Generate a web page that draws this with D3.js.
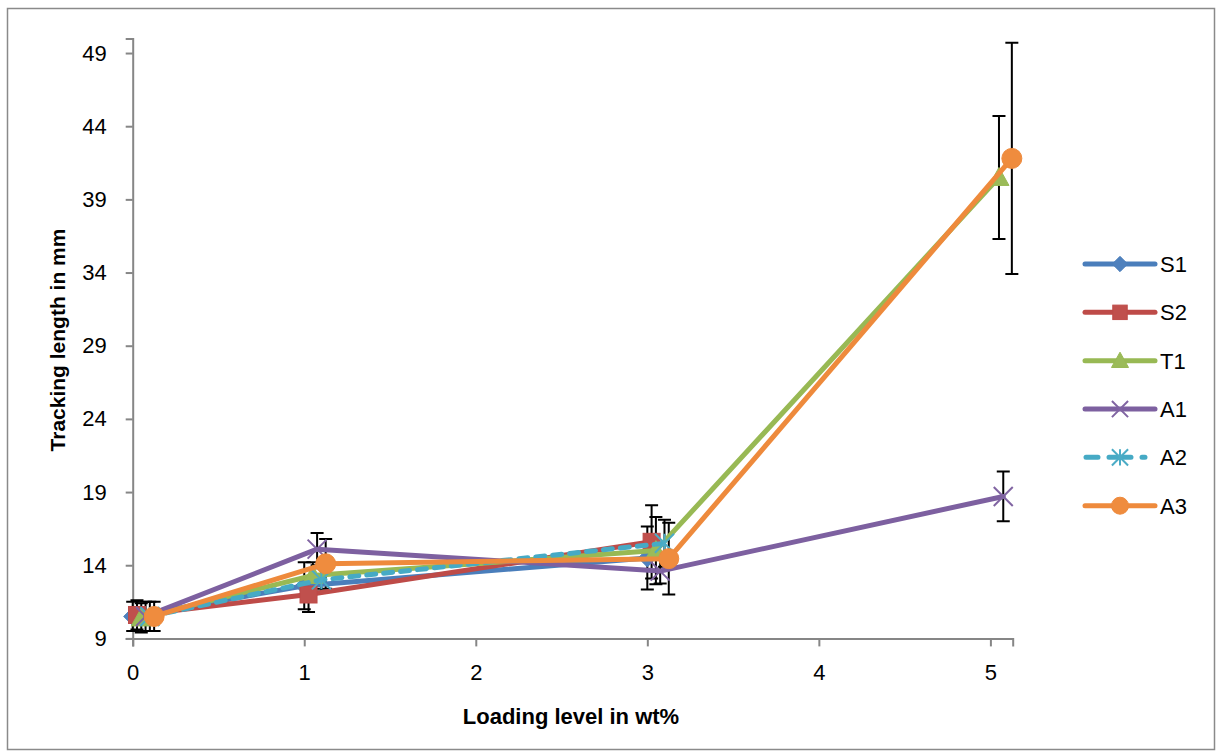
<!DOCTYPE html>
<html>
<head>
<meta charset="utf-8">
<script src="https://cdn.jsdelivr.net/npm/d3@7"></script>
<style>
  html, body { margin: 0; padding: 0; background: #fff; }
  svg { display: block; font-family: "Liberation Sans", Arial, sans-serif; }
</style>
</head>
<body>
<svg id="chart" width="1217" height="756"></svg>
<script>
// Tracking length (mm) against loading level (wt%), mean ± error, one series per formulation
const seriesNames = ["S1", "S2", "T1", "A1", "A2", "A3"];

const xS1 = [0, 1, 3];
const yS1 = [10.5, 12.6, 14.5];
const eS1 = [1.0, 1.6, 2.15];

const xS2 = [0.025, 1.025, 3.025];
const yS2 = [10.6, 12.0, 15.6];
const eS2 = [1.0, 1.2, 2.5];

const xT1 = [0.05, 1.05, 3.05, 5.05];
const yT1 = [10.4, 13.3, 15.0, 40.5];
const eT1 = [1.0, 0.9, 2.3, 4.2];

const xA1 = [0.075, 1.075, 3.075, 5.075];
const yA1 = [10.5, 15.1, 13.6, 18.7];
const eA1 = [1.0, 1.1, 0.85, 1.7];

const xA2 = [0.1, 1.1, 3.1];
const yA2 = [10.5, 13.0, 15.5];
const eA2 = [1.0, 0.8, 1.6];

const xA3 = [0.125, 1.125, 3.125, 5.125];
const yA3 = [10.5, 14.1, 14.45, 41.8];
const eA3 = [1.0, 1.7, 2.45, 7.9];

const xTickValues = [0, 1, 2, 3, 4, 5];
const yTickValues = [9, 14, 19, 24, 29, 34, 39, 44, 49];

const xTitle = "Loading level in wt%";
const yTitle = "Tracking length in mm";

// Build the series table from the arrays above
const xs = [xS1, xS2, xT1, xA1, xA2, xA3];
const ys = [yS1, yS2, yT1, yA1, yA2, yA3];
const es = [eS1, eS2, eT1, eA1, eA2, eA3];
const styles = {
  S1: { line: "#4A7EBB", fill: "#4F81BD", marker: "diamond" },
  S2: { line: "#BE4B48", fill: "#C0504D", marker: "square" },
  T1: { line: "#98B954", fill: "#9BBB59", marker: "triangle" },
  A1: { line: "#7D60A0", fill: "#8064A2", marker: "x" },
  A2: { line: "#46AAC5", fill: "#4BACC6", marker: "star", dash: "9,8" },
  A3: { line: "#EE8A3C", fill: "#EF8C3E", marker: "circle" }
};
const series = seriesNames.map((name, i) => ({
  name,
  style: styles[name],
  points: xs[i].map((x, j) => ({ x, y: ys[i][j], e: es[i][j] }))
}));

const svg = d3.select("#chart");
const fontFamily = "'Liberation Sans', Arial, sans-serif";

// Chart frame
svg.append("rect")
  .attr("x", 7.5).attr("y", 8.5)
  .attr("width", 1207).attr("height", 741)
  .attr("fill", "#fff").attr("stroke", "#8a8a8a").attr("stroke-width", 1.5);

const x = d3.scaleLinear().domain([0, 5.13]).range([132.7, 1012.7]);
const y = d3.scaleLinear().domain([9, 50]).range([638.4, 38.4]);

const axisColor = "#868686";

// Y axis
const yAxis = svg.append("g")
  .attr("transform", `translate(${x(0)},0)`)
  .call(d3.axisLeft(y).tickValues(yTickValues).tickSize(7).tickPadding(19).tickFormat(d3.format("d")));
yAxis.select(".domain").attr("stroke", axisColor).attr("stroke-width", 2);
yAxis.selectAll(".tick line").attr("stroke", axisColor).attr("stroke-width", 2);
yAxis.selectAll(".tick text").attr("fill", "#000").style("font-size", "22px")
  .style("font-family", fontFamily);

// X axis
const xAxis = svg.append("g")
  .attr("transform", `translate(0,${y(9)})`)
  .call(d3.axisBottom(x).tickValues(xTickValues).tickSize(8).tickPadding(18).tickFormat(d3.format("d")));
xAxis.select(".domain").attr("stroke", axisColor).attr("stroke-width", 2);
xAxis.selectAll(".tick line").attr("stroke", axisColor).attr("stroke-width", 2);
xAxis.selectAll(".tick text").attr("fill", "#000").style("font-size", "22px")
  .style("font-family", fontFamily);

// Axis titles
svg.append("text")
  .attr("x", 571).attr("y", 724)
  .attr("text-anchor", "middle")
  .style("font-size", "22px").style("font-weight", "bold")
  .text(xTitle);
svg.append("text")
  .attr("transform", "translate(65,340) rotate(-90)")
  .attr("text-anchor", "middle")
  .style("font-size", "21px").style("font-weight", "bold")
  .text(yTitle);

// Marker drawing
function drawMarker(g, type, cx, cy, st, scale) {
  const s = scale || 1;
  if (type === "diamond") {
    const r = 9 * s;
    g.append("path")
      .attr("d", `M${cx},${cy - r}L${cx + r},${cy}L${cx},${cy + r}L${cx - r},${cy}Z`)
      .attr("fill", st.fill).attr("stroke", st.line).attr("stroke-width", 1);
  } else if (type === "square") {
    const r = 8.5 * s;
    g.append("rect")
      .attr("x", cx - r).attr("y", cy - r).attr("width", 2 * r).attr("height", 2 * r)
      .attr("fill", st.fill).attr("stroke", st.line).attr("stroke-width", 1);
  } else if (type === "triangle") {
    const r = 10 * s;
    g.append("path")
      .attr("d", `M${cx},${cy - r}L${cx + r},${cy + r * 0.8}L${cx - r},${cy + r * 0.8}Z`)
      .attr("fill", st.fill).attr("stroke", st.line).attr("stroke-width", 1);
  } else if (type === "x") {
    const r = 9.5 * s;
    g.append("path")
      .attr("d", `M${cx - r},${cy - r}L${cx + r},${cy + r}M${cx - r},${cy + r}L${cx + r},${cy - r}`)
      .attr("stroke", st.fill).attr("stroke-width", 2).attr("fill", "none");
  } else if (type === "star") {
    const r = 9.5 * s;
    g.append("path")
      .attr("d", `M${cx - r},${cy - r}L${cx + r},${cy + r}M${cx - r},${cy + r}L${cx + r},${cy - r}M${cx},${cy - r}L${cx},${cy + r}`)
      .attr("stroke", st.fill).attr("stroke-width", 2).attr("fill", "none");
  } else if (type === "circle") {
    g.append("circle")
      .attr("cx", cx).attr("cy", cy).attr("r", 10 * s)
      .attr("fill", st.fill).attr("stroke", st.line).attr("stroke-width", 1);
  }
}

const plot = svg.append("g");

// Error bars sit beneath the series lines and markers
const errG = plot.append("g");
series.forEach(s => {
  s.points.forEach(p => {
    const px = x(p.x), top = y(p.y + p.e), bot = y(p.y - p.e);
    errG.append("path")
      .attr("d", `M${px},${top}L${px},${bot}M${px - 6.5},${top}L${px + 6.5},${top}M${px - 6.5},${bot}L${px + 6.5},${bot}`)
      .attr("stroke", "#000").attr("stroke-width", 2).attr("fill", "none");
  });
});

const line = d3.line().x(d => x(d.x)).y(d => y(d.y));
series.forEach(s => {
  const g = plot.append("g");
  g.append("path")
    .datum(s.points)
    .attr("d", line)
    .attr("fill", "none")
    .attr("stroke", s.style.line)
    .attr("stroke-width", 5)
    .attr("stroke-linejoin", "round")
    .attr("stroke-linecap", "round")
    .attr("stroke-dasharray", s.style.dash || null);
  s.points.forEach(p => drawMarker(g, s.style.marker, x(p.x), y(p.y), s.style, 1));
});

// Legend
const legend = svg.append("g");
const legendY = d3.scalePoint().domain(seriesNames).range([264, 505.7]);
series.forEach(s => {
  const ly = legendY(s.name);
  if (s.style.dash) {
    legend.append("path")
      .attr("d", `M1086,${ly}L1098,${ly}M1109,${ly}L1131,${ly}M1142,${ly}L1145,${ly}`)
      .attr("stroke", s.style.line).attr("stroke-width", 5)
      .attr("stroke-linecap", "round").attr("fill", "none");
  } else {
    legend.append("path")
      .attr("d", `M1085,${ly}L1155,${ly}`)
      .attr("stroke", s.style.line).attr("stroke-width", 5)
      .attr("stroke-linecap", "round").attr("fill", "none");
  }
  drawMarker(legend, s.style.marker, 1120, ly, s.style, 0.85);
  legend.append("text")
    .attr("x", 1160).attr("y", ly)
    .attr("dy", "0.36em")
    .style("font-size", "22px")
    .text(s.name);
});
</script>
</body>
</html>
